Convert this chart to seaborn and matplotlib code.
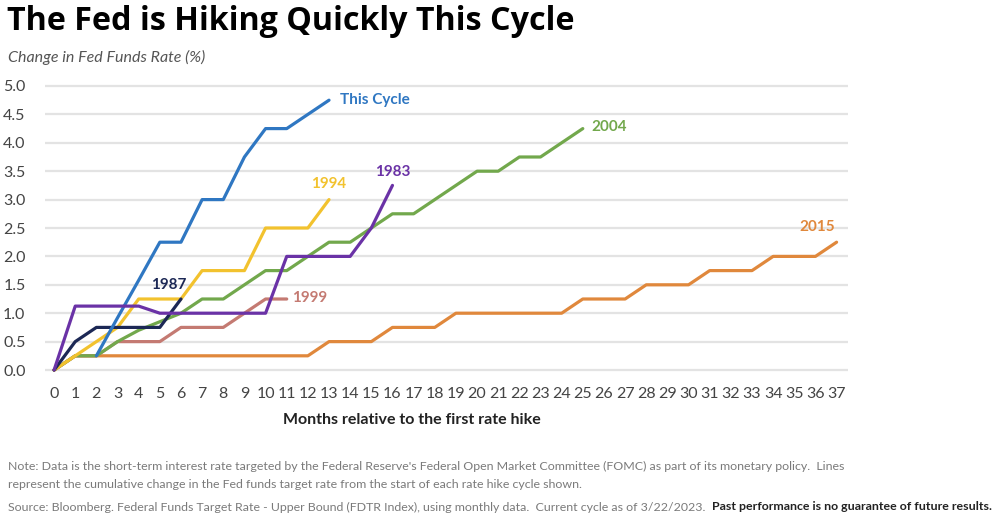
import matplotlib
matplotlib.use("Agg")
import matplotlib.pyplot as plt
import seaborn as sns
import pandas as pd

# ---- data ----
cycles = ["2015", "1999", "2004", "1994", "1987", "This Cycle", "1983"]

months_this_cycle = [2, 3, 4, 5, 6, 7, 8, 9, 10, 11, 12, 13]
vals_this_cycle = [0.25, 0.92, 1.58, 2.25, 2.25, 3.0, 3.0, 3.75, 4.25, 4.25, 4.5, 4.75]

vals_1994 = [0, 0.25, 0.5, 0.75, 1.25, 1.25, 1.25, 1.75, 1.75, 1.75, 2.5, 2.5, 2.5, 3.0]
vals_1983 = [0, 1.125, 1.125, 1.125, 1.125, 1.0, 1.0, 1.0, 1.0, 1.0, 1.0, 2.0, 2.0, 2.0, 2.0, 2.5, 3.25]
vals_1987 = [0, 0.5, 0.75, 0.75, 0.75, 0.75, 1.25]
vals_1999 = [0, 0.25, 0.25, 0.5, 0.5, 0.5, 0.75, 0.75, 0.75, 1.0, 1.25, 1.25]
vals_2004 = [0, 0.25, 0.25, 0.5, 0.7, 0.85, 1.0, 1.25, 1.25, 1.5, 1.75, 1.75, 2.0, 2.25, 2.25,
             2.5, 2.75, 2.75, 3.0, 3.25, 3.5, 3.5, 3.75, 3.75, 4.0, 4.25]
vals_2015 = [0, 0.25, 0.25, 0.25, 0.25, 0.25, 0.25, 0.25, 0.25, 0.25, 0.25, 0.25, 0.25,
             0.5, 0.5, 0.5, 0.75, 0.75, 0.75, 1.0, 1.0, 1.0, 1.0, 1.0, 1.0,
             1.25, 1.25, 1.25, 1.5, 1.5, 1.5, 1.75, 1.75, 1.75, 2.0, 2.0, 2.0, 2.25]

x_ticks = list(range(0, 38))
y_ticks = [0.0, 0.5, 1.0, 1.5, 2.0, 2.5, 3.0, 3.5, 4.0, 4.5, 5.0]

colors = {
    "This Cycle": "#2f77c2",
    "1994": "#f2c22e",
    "2004": "#72a84c",
    "1983": "#6a32a6",
    "1987": "#1c2855",
    "1999": "#c47a72",
    "2015": "#e0883c",
}

series = {
    "This Cycle": (months_this_cycle, vals_this_cycle),
    "1994": (list(range(len(vals_1994))), vals_1994),
    "1983": (list(range(len(vals_1983))), vals_1983),
    "1987": (list(range(len(vals_1987))), vals_1987),
    "1999": (list(range(len(vals_1999))), vals_1999),
    "2004": (list(range(len(vals_2004))), vals_2004),
    "2015": (list(range(len(vals_2015))), vals_2015),
}

rows = []
for name in cycles:
    ms, vs = series[name]
    for m, v in zip(ms, vs):
        rows.append({"cycle": name, "month": m, "change": v})
df = pd.DataFrame(rows)

# ---- figure ----
sns.set_theme(style="white")
plt.rcParams["font.family"] = ["Lato", "DejaVu Sans"]

fig = plt.figure(figsize=(10, 5.22), dpi=100)
ax = fig.add_axes([0.045, 1 - 372 / 522, 0.803, (372 - 84) / 522])

sns.lineplot(data=df, x="month", y="change", hue="cycle", hue_order=cycles,
             palette=colors, linewidth=2.3, legend=False, ax=ax, sort=True)

ax.set_xlim(-0.43, 37.54)
ax.set_ylim(-0.035, 5.035)
ax.set_xticks(x_ticks)
ax.set_xticklabels([str(t) for t in x_ticks])
ax.set_yticks(y_ticks)
ax.set_yticklabels([f"{t:.1f}" for t in y_ticks])
ax.grid(axis="y", color="#e3e3e3", linewidth=1.6)
ax.grid(axis="x", visible=False)
for s in ax.spines.values():
    s.set_visible(False)
ax.tick_params(axis="x", length=0, pad=11, labelsize=11.5, labelcolor="#444444")
ax.tick_params(axis="y", length=0, pad=14, labelsize=11.5, labelcolor="#444444")
ax.set_xlabel("Months relative to the first rate hike", fontsize=11.5,
              fontweight="bold", color="#222222")
ax.xaxis.set_label_coords((412 - 45) / 803, -(420 - 372) / 288)
ax.xaxis.label.set_va("center")
ax.set_ylabel("")

# series labels
lab_kw = dict(fontsize=11, fontweight="bold")
ax.text(13.5, 4.75, "This Cycle", color=colors["This Cycle"], ha="left", va="center", **lab_kw)
ax.text(25.4, 4.28, "2004", color=colors["2004"], ha="left", va="center", **lab_kw)
ax.text(13.0, 3.27, "1994", color=colors["1994"], ha="center", va="center", **lab_kw)
ax.text(16.0, 3.49, "1983", color=colors["1983"], ha="center", va="center", **lab_kw)
ax.text(36.1, 2.52, "2015", color=colors["2015"], ha="center", va="center", **lab_kw)
ax.text(5.44, 1.50, "1987", color=colors["1987"], ha="center", va="center", **lab_kw)
ax.text(11.25, 1.27, "1999", color=colors["1999"], ha="left", va="center", **lab_kw)

# title & axis caption
fig.text(0.007, 1 - 22 / 522, "The Fed is Hiking Quickly This Cycle", fontsize=23.2,
         fontweight="bold", family=["Open Sans", "DejaVu Sans"], color="black",
         ha="left", va="center")
fig.text(0.008, 1 - 57 / 522, "Change in Fed Funds Rate (%)", fontsize=11.5,
         style="italic", color="#555555", ha="left", va="center")

# footnotes
fn_kw = dict(fontsize=8.9, color="#7a7a7a", ha="left", va="center")
fig.text(0.008, 1 - 466 / 522,
         "Note: Data is the short-term interest rate targeted by the Federal Reserve's Federal Open Market Committee (FOMC) as part of its monetary policy.  Lines",
         **fn_kw)
fig.text(0.008, 1 - 484 / 522,
         "represent the cumulative change in the Fed funds target rate from the start of each rate hike cycle shown.",
         **fn_kw)
t3 = fig.text(0.008, 1 - 507 / 522,
              "Source: Bloomberg. Federal Funds Target Rate - Upper Bound (FDTR Index), using monthly data.  Current cycle as of 3/22/2023.  ",
              **fn_kw)
fig.canvas.draw()
bb = t3.get_window_extent(renderer=fig.canvas.get_renderer())
fig.text(bb.x1 / fig.bbox.width, 1 - 507 / 522,
         "Past performance is no guarantee of future results.",
         fontsize=8.9, color="#222222", fontweight="bold", ha="left", va="center")

fig.savefig("out.png", dpi=100)
